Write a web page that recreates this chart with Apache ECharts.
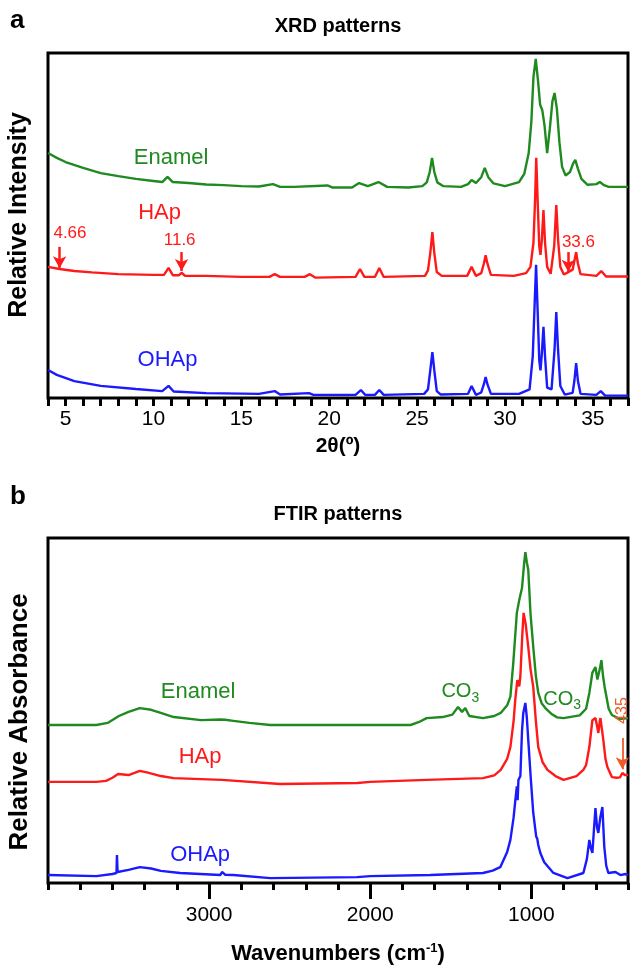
<!DOCTYPE html>
<html><head><meta charset="utf-8">
<script src="https://cdn.jsdelivr.net/npm/echarts@6/dist/echarts.min.js"></script>
<style>html,body{margin:0;padding:0;background:#fff}#c{width:632px;height:969px}</style>
</head><body><div id="c"></div>
<script>
// ---------- XRD data: [2theta, relative intensity (offset)] ----------
const xrdTickLabels = [5, 10, 15, 20, 25, 30, 35];
const xrdEnamel = [[4,71.0],[4.5,69.6],[5,68.4],[6,66.7],[7,65.2],[8,64.3],[9,63.5],[10,62.9],[10.5,62.6],[10.8,64.1],[11.1,62.6],[12,62.3],[13,61.9],[14,61.7],[15,61.4],[16,61.3],[16.8,62.0],[17.2,61.2],[18,61.2],[19.9,61.6],[20.2,61.0],[21.3,61.0],[21.7,62.3],[22.2,61.4],[22.8,62.6],[23.3,61.2],[24.5,61.0],[25.3,61.4],[25.55,62.5],[25.72,65.5],[25.85,69.6],[25.98,65.5],[26.15,62.5],[26.5,61.4],[27.5,61.2],[27.9,62.0],[28.1,63.2],[28.35,62.3],[28.65,64.0],[28.85,66.7],[29.05,64.0],[29.35,62.2],[30,61.4],[30.8,62.6],[31.1,65.0],[31.35,71.0],[31.5,80.0],[31.62,93.0],[31.75,98.3],[31.88,92.0],[32.0,85.0],[32.12,83.5],[32.25,79.0],[32.4,71.0],[32.55,78.0],[32.7,86.0],[32.82,88.4],[32.95,84.0],[33.1,74.0],[33.25,67.0],[33.45,64.5],[33.7,65.5],[33.88,68.0],[34.0,69.0],[34.15,66.5],[34.35,63.5],[34.7,61.8],[35.2,62.0],[35.4,62.6],[35.6,61.8],[35.9,61.2],[37,61.2]];
const xrdHAp = [[4,38.0],[4.66,37.4],[5.5,36.8],[6.5,36.4],[8,35.9],[10,35.7],[10.6,35.7],[10.86,37.7],[11.1,35.6],[11.45,35.6],[11.6,36.3],[11.8,35.4],[13,35.4],[15,35.1],[16.6,35.1],[16.9,35.9],[17.2,35.1],[18.6,35.1],[18.9,35.9],[19.2,34.9],[21.5,35.1],[21.75,37.4],[22.0,35.1],[22.6,35.1],[22.85,37.7],[23.1,35.1],[25.45,35.4],[25.62,37.0],[25.75,42.0],[25.87,48.1],[25.98,42.0],[26.12,36.5],[26.4,35.4],[27.85,35.4],[28.1,38.0],[28.35,35.4],[28.65,36.2],[28.8,39.0],[28.9,41.4],[29.0,39.0],[29.2,35.7],[30.5,35.4],[31.2,36.2],[31.45,38.0],[31.62,45.0],[31.71,57.0],[31.78,69.6],[31.86,57.0],[31.95,44.0],[32.02,41.5],[32.1,46.0],[32.19,54.5],[32.28,45.0],[32.4,38.0],[32.6,36.0],[32.8,44.0],[32.92,55.9],[33.02,46.0],[33.15,38.0],[33.35,35.8],[33.6,36.5],[33.85,37.2],[33.96,40.0],[34.05,42.3],[34.15,39.0],[34.3,35.9],[35.2,35.4],[35.48,36.8],[35.75,35.2],[37,35.2]];
const xrdOHAp = [[4,8.1],[4.5,6.7],[5.5,4.9],[7,3.5],[9,2.6],[10.5,2.0],[10.86,3.5],[11.15,1.9],[13,1.4],[16,1.2],[16.9,2.0],[17.2,1.0],[18.85,1.4],[19.1,0.9],[21.5,0.9],[21.8,2.3],[22.05,0.9],[22.6,0.9],[22.85,2.3],[23.1,0.9],[25.4,1.2],[25.62,2.5],[25.75,8.0],[25.87,13.3],[25.98,8.0],[26.12,2.0],[26.35,1.0],[27.9,1.2],[28.1,3.5],[28.35,0.9],[28.65,1.6],[28.8,4.0],[28.9,6.1],[29.0,4.0],[29.2,1.2],[30.8,1.2],[31.4,2.5],[31.58,12.0],[31.68,26.0],[31.77,38.6],[31.86,25.0],[31.95,11.0],[32.02,8.0],[32.1,13.0],[32.19,20.6],[32.28,12.0],[32.4,3.0],[32.65,2.5],[32.82,14.0],[32.92,24.9],[33.02,14.0],[33.15,3.5],[33.4,1.0],[33.85,1.5],[33.95,5.0],[34.05,10.1],[34.15,5.0],[34.3,1.2],[35.2,0.9],[35.45,2.0],[35.7,0.7],[37,0.7]];

// ---------- FTIR data: [wavenumber, relative absorbance (offset)] ----------
const ftirTickLabels = [1000, 2000, 3000];
const ftirEnamel = [[4000,45.8],[3700,45.8],[3630,46.4],[3560,48.4],[3500,49.6],[3430,50.7],[3360,50.2],[3300,49.3],[3220,48.1],[3050,47.2],[2930,47.4],[2920,47.9],[2900,47.3],[2850,47.0],[2750,46.4],[2620,45.8],[1750,45.8],[1700,46.6],[1650,47.8],[1550,48.1],[1490,48.8],[1455,51.0],[1430,49.6],[1410,50.7],[1385,48.4],[1300,47.8],[1230,48.4],[1190,49.3],[1150,51.5],[1130,54.0],[1112,63.8],[1090,78.3],[1075,82.0],[1058,85.5],[1045,92.5],[1037,95.9],[1028,93.0],[1019,90.7],[1005,78.0],[988,68.4],[972,60.0],[957,55.1],[935,52.0],[913,50.7],[872,48.9],[840,48.0],[800,47.8],[700,48.6],[660,50.5],[640,55.1],[621,61.0],[602,62.6],[590,59.0],[584,58.8],[575,62.0],[565,64.6],[555,60.0],[545,56.8],[520,50.5],[500,48.7],[450,47.5],[400,47.8]];
const ftirHAp = [[4000,29.3],[3700,29.3],[3640,29.6],[3600,30.5],[3565,31.6],[3500,31.3],[3430,32.5],[3380,32.0],[3300,31.0],[3220,30.4],[2920,29.9],[2560,28.7],[2080,29.0],[2000,29.3],[1650,29.9],[1300,30.4],[1230,31.2],[1190,32.8],[1150,36.0],[1130,39.4],[1110,47.0],[1100,53.0],[1087,58.8],[1075,57.0],[1068,60.0],[1056,72.0],[1048,78.3],[1043,78.6],[1035,75.0],[1019,68.4],[1005,62.0],[988,56.8],[972,47.0],[957,39.4],[930,35.0],[900,32.8],[850,31.0],[800,29.9],[720,31.0],[677,32.8],[660,34.2],[640,39.4],[621,47.2],[602,47.8],[590,45.0],[584,43.5],[575,47.0],[571,47.8],[553,41.4],[540,36.0],[528,33.6],[500,30.7],[470,30.5],[450,30.6],[435,31.9],[420,31.3],[400,31.3]];
const ftirOHAp = [[4000,2.3],[3700,2.0],[3600,2.6],[3575,2.9],[3572,8.1],[3568,3.2],[3500,3.8],[3430,4.6],[3360,4.2],[3300,3.5],[3180,2.9],[2930,2.3],[2920,3.2],[2900,2.4],[2850,2.3],[2620,1.4],[2081,1.7],[2000,2.0],[1627,2.3],[1300,2.9],[1240,3.6],[1193,4.6],[1150,9.0],[1130,12.5],[1110,19.0],[1099,24.1],[1090,28.0],[1085,24.0],[1080,29.9],[1068,31.0],[1058,44.0],[1050,49.3],[1037,52.2],[1028,48.0],[1019,41.4],[1003,30.0],[988,20.3],[970,13.5],[963,12.8],[957,11.0],[944,8.7],[920,6.0],[863,2.9],[776,1.4],[677,2.9],[655,7.0],[640,12.5],[630,10.0],[621,8.7],[612,15.0],[602,21.7],[592,16.0],[584,14.5],[572,19.0],[559,22.0],[547,10.4],[535,5.0],[522,2.9],[478,3.2],[447,2.3],[416,2.6],[400,2.3]];

const GREEN = '#1f8a1f', RED = '#ff1a1a', BLUE = '#1a1aff', ORANGE = '#f05a28';
const FONT = 'Liberation Sans, Arial, Helvetica, sans-serif';

function lbl(text, coord, color, size, rotate) {
  const l = { show: true, position: 'inside', formatter: text, color: color, fontSize: size, fontFamily: FONT };
  if (rotate) l.rotate = rotate;
  return { coord: coord, symbolSize: 0, label: l };
}
function co3(coord) {
  return { coord: coord, symbolSize: 0, label: { show: true, position: 'inside', formatter: '{c|CO}{s|3}', rich: {
    c: { fontSize: 20, color: GREEN, fontFamily: FONT }, s: { fontSize: 14, color: GREEN, fontFamily: FONT, padding: [12, 0, 0, 0] } } } };
}
function arrow(x, y0, y1) {
  return [{ coord: [x, y0] }, { coord: [x, y1] }];
}
function markLines(list, color, width) {
  return { data: list, symbol: ['none', 'arrow'], symbolSize: [10, 12], silent: true, animation: false,
    lineStyle: { color: color, width: width, type: 'solid' }, label: { show: false } };
}
function lineSeries(name, data, color, xi, yi, mp, ml) {
  const s = { name: name, type: 'line', data: data, xAxisIndex: xi, yAxisIndex: yi,
    showSymbol: false, symbol: 'none', smooth: false, clip: true,
    lineStyle: { color: color, width: 2.4 }, silent: true };
  if (mp) s.markPoint = { data: mp, animation: false };
  if (ml) s.markLine = ml;
  return s;
}

const chart = echarts.init(document.getElementById('c'), null, { renderer: 'canvas' });
chart.setOption({
  animation: false,
  backgroundColor: '#fff',
  textStyle: { fontFamily: FONT },
  grid: [
    { left: 48, right: 4, top: 53, height: 345, show: true, borderColor: '#000', borderWidth: 3, backgroundColor: 'transparent' },
    { left: 48, right: 4, top: 538, height: 345, show: true, borderColor: '#000', borderWidth: 3, backgroundColor: 'transparent' }
  ],
  graphic: [
    { type: 'text', left: 10, top: 8, style: { text: 'a', font: 'bold 26px ' + FONT, fill: '#000' } },
    { type: 'text', left: 10, top: 484, style: { text: 'b', font: 'bold 26px ' + FONT, fill: '#000' } },
    { type: 'text', x: 338, y: 26, style: { text: 'XRD patterns', font: 'bold 20px ' + FONT, fill: '#000', align: 'center', verticalAlign: 'middle' } },
    { type: 'text', x: 338, y: 514, style: { text: 'FTIR patterns', font: 'bold 20px ' + FONT, fill: '#000', align: 'center', verticalAlign: 'middle' } },
    { type: 'text', x: 19, y: 215, rotation: Math.PI / 2, style: { text: 'Relative Intensity', font: 'bold 25px ' + FONT, fill: '#000', align: 'center', verticalAlign: 'middle' } },
    { type: 'text', x: 20, y: 722, rotation: Math.PI / 2, style: { text: 'Relative Absorbance', font: 'bold 26px ' + FONT, fill: '#000', align: 'center', verticalAlign: 'middle' } }
  ],
  xAxis: [
    { type: 'value', gridIndex: 0, min: 4, max: 37, interval: 1, position: 'bottom',
      axisLine: { show: false }, splitLine: { show: false },
      axisTick: { show: true, length: 8, lineStyle: { color: '#000', width: 3 } },
      axisLabel: { show: true, customValues: xrdTickLabels, margin: 11, color: '#000', fontSize: 21, fontFamily: FONT },
      name: '2θ(º)', nameLocation: 'middle', nameGap: 38,
      nameTextStyle: { fontSize: 21, fontWeight: 'bold', color: '#000', fontFamily: FONT } },
    { type: 'value', gridIndex: 1, min: 400, max: 4000, inverse: true, position: 'bottom',
      axisLine: { show: false }, splitLine: { show: false },
      axisTick: { show: true, customValues: ftirTickLabels, length: 16, lineStyle: { color: '#000', width: 3 } },
      axisLabel: { show: true, customValues: ftirTickLabels, formatter: function (v) { return String(v); },
        margin: 22, color: '#000', fontSize: 21, fontFamily: FONT },
      name: '{a|Wavenumbers (cm}{s|-1}{a|)}', nameLocation: 'middle', nameGap: 59,
      nameTextStyle: { color: '#000', fontFamily: FONT,
        rich: { a: { fontSize: 22, fontWeight: 'bold', color: '#000', fontFamily: FONT },
                s: { fontSize: 13, fontWeight: 'bold', color: '#000', fontFamily: FONT, padding: [0, 0, 10, 0] } } } },
    { type: 'value', gridIndex: 1, min: 400, max: 4000, interval: 200, inverse: true, position: 'bottom', offset: 0,
      axisLine: { show: false }, splitLine: { show: false },
      axisTick: { show: true, length: 7, lineStyle: { color: '#000', width: 3 } },
      axisLabel: { show: false } }
  ],
  yAxis: [
    { type: 'value', gridIndex: 0, min: 0, max: 100, show: false },
    { type: 'value', gridIndex: 1, min: 0, max: 100, show: false }
  ],
  series: [
    lineSeries('Enamel', xrdEnamel, GREEN, 0, 0, [lbl('Enamel', [11.0, 69.6], GREEN, 22)]),
    lineSeries('HAp', xrdHAp, RED, 0, 0,
      [lbl('HAp', [10.35, 53.6], RED, 22), lbl('4.66', [5.25, 47.8], RED, 17), lbl('11.6', [11.49, 45.8], RED, 17), lbl('33.6', [34.18, 45.2], RED, 17)],
      markLines([arrow(4.66, 43.8, 37.6), arrow(11.6, 42.3, 36.8), arrow(33.6, 42.3, 36.6)], RED, 2.5)),
    lineSeries('OHAp', xrdOHAp, BLUE, 0, 0, [lbl('OHAp', [10.8, 11.0], BLUE, 22)]),
    lineSeries('Enamel', ftirEnamel, GREEN, 1, 1, [lbl('Enamel', [3068, 55.4], GREEN, 22), co3([1441, 55.4]), co3([808, 53.3])]),
    lineSeries('HAp', ftirHAp, RED, 1, 1, [lbl('HAp', [3056, 36.5], RED, 22), lbl('435', [435, 50.0], ORANGE, 16, 90)],
      markLines([arrow(435, 42.0, 33.0)], ORANGE, 1.8)),
    lineSeries('OHAp', ftirOHAp, BLUE, 1, 1, [lbl('OHAp', [3056, 8.1], BLUE, 22)])
  ]
});
</script>
</body></html>
